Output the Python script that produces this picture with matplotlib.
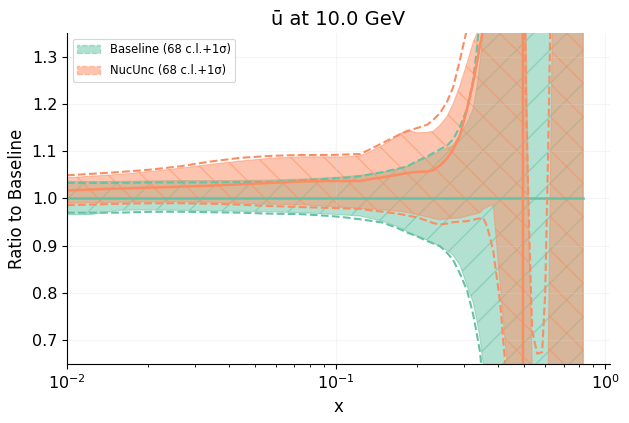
import numpy as np
import matplotlib
matplotlib.use("Agg")
import matplotlib.pyplot as plt
from matplotlib.patches import Patch

DPI = 100

green = "#66c2a5"
orange = "#fc8d62"

# x grid (log x)
x = [0.0100, 0.01218, 0.01574, 0.02035, 0.02631, 0.03401, 0.04396, 0.05683, 0.07346, 0.0950,
     0.1080, 0.1228, 0.1338, 0.1495, 0.1729, 0.1836, 0.2000, 0.2180, 0.2294, 0.2435,
     0.2586, 0.2722, 0.2891, 0.3069, 0.3231, 0.3343, 0.3430, 0.3520, 0.3642, 0.3835,
     0.4071, 0.4322, 0.4628, 0.4935, 0.4957, 0.5085, 0.5218, 0.5354, 0.5588, 0.5831,
     0.5984, 0.6139, 0.6245, 0.6353, 0.7100, 0.8284]

# baseline: ratio to itself
base_c = [1.0] * len(x)
base_hi = [1.036, 1.036, 1.036, 1.037, 1.038, 1.038, 1.038, 1.039, 1.041, 1.044,
           1.046, 1.049, 1.052, 1.056, 1.064, 1.068, 1.078, 1.087, 1.093, 1.100,
           1.106, 1.113, 1.135, 1.160, 1.190, 1.240, 1.290, 1.350, 1.6, 1.6,
           1.6, 1.6, 1.6, 1.6, 1.6, 1.6, 1.6, 1.6, 1.6, 1.6,
           1.6, 1.6, 1.6, 1.6, 1.6, 1.6]
base_lo = [0.966, 0.966, 0.975, 0.976, 0.975, 0.974, 0.973, 0.972, 0.970, 0.967,
           0.965, 0.963, 0.958, 0.952, 0.938, 0.930, 0.920, 0.912, 0.906, 0.898,
           0.890, 0.880, 0.858, 0.815, 0.780, 0.740, 0.702, 0.650, 0.4, 0.4,
           0.4, 0.4, 0.4, 0.4, 0.4, 0.4, 0.4, 0.4, 0.4, 0.4,
           0.4, 0.4, 0.4, 0.4, 0.4, 0.4]
base_hi_s = [1.033, 1.033, 1.033, 1.034, 1.034, 1.034, 1.035, 1.035, 1.038, 1.042,
             1.044, 1.047, 1.051, 1.056, 1.064, 1.068, 1.079, 1.089, 1.096, 1.104,
             1.112, 1.125, 1.153, 1.190, 1.250, 1.320, 1.400, 1.6, 1.6, 1.6,
             1.6, 1.6, 1.6, 1.6, 1.6, 1.6, 1.6, 1.6, 1.6, 1.6,
             1.6, 1.6, 1.6, 1.6, 1.6, 1.6]
base_lo_s = [0.970, 0.970, 0.970, 0.972, 0.972, 0.971, 0.970, 0.968, 0.967, 0.963,
             0.960, 0.956, 0.953, 0.949, 0.935, 0.928, 0.920, 0.910, 0.905, 0.899,
             0.885, 0.870, 0.840, 0.805, 0.755, 0.710, 0.674, 0.600, 0.4, 0.4,
             0.4, 0.4, 0.4, 0.4, 0.4, 0.4, 0.4, 0.4, 0.4, 0.4,
             0.4, 0.4, 0.4, 0.4, 0.4, 0.4]

# nuclear uncertainties fit, ratio to baseline
nuc_c = [1.017, 1.019, 1.021, 1.023, 1.025, 1.027, 1.030, 1.033, 1.036, 1.037,
         1.037, 1.037, 1.041, 1.045, 1.051, 1.054, 1.056, 1.057, 1.060, 1.070,
         1.085, 1.103, 1.135, 1.190, 1.245, 1.290, 1.325, 1.360, 1.6, 2.0,
         2.5, 3.0, 4.0, 6.0, -4.0, 0.2, 0.2, 0.2, 0.2, 0.2,
         0.2, 0.2, 0.2, 0.2, 0.2, 0.2]
nuc_hi = [1.044, 1.047, 1.051, 1.057, 1.064, 1.072, 1.079, 1.085, 1.088, 1.088,
          1.088, 1.090, 1.099, 1.113, 1.137, 1.145, 1.139, 1.140, 1.142, 1.155,
          1.174, 1.200, 1.240, 1.287, 1.330, 1.350, 1.6, 1.6, 1.6, 1.6,
          1.6, 1.6, 1.6, 1.6, 1.6, 1.35, 0.89, 0.65, 0.4, 0.4,
          0.4, 0.65, 1.0, 1.35, 1.6, 1.6]
nuc_lo = [0.990, 0.991, 0.992, 0.993, 0.993, 0.992, 0.990, 0.988, 0.987, 0.983,
          0.981, 0.979, 0.978, 0.976, 0.973, 0.970, 0.966, 0.961, 0.958, 0.955,
          0.957, 0.958, 0.959, 0.963, 0.966, 0.968, 0.970, 0.977, 0.982, 0.987,
          0.818, 0.650, 0.4, 0.4, 0.4, 0.4, 0.4, 0.4, 0.4, 0.4,
          0.4, 0.4, 0.4, 0.4, 0.4, 0.4]
nuc_hi_s = [1.049, 1.052, 1.056, 1.061, 1.068, 1.078, 1.086, 1.090, 1.092, 1.092,
            1.093, 1.094, 1.104, 1.118, 1.136, 1.142, 1.149, 1.156, 1.166, 1.181,
            1.205, 1.235, 1.295, 1.360, 1.6, 1.6, 1.6, 1.6, 1.6, 1.6,
            1.6, 1.6, 1.6, 1.6, 1.6, 1.20, 0.93, 0.72, 0.672, 0.675,
            0.80, 1.10, 1.35, 1.6, 1.6, 1.6]
nuc_lo_s = [0.986, 0.987, 0.989, 0.990, 0.990, 0.989, 0.987, 0.984, 0.982, 0.980,
            0.979, 0.978, 0.975, 0.972, 0.967, 0.964, 0.960, 0.953, 0.948, 0.945,
            0.947, 0.950, 0.951, 0.952, 0.955, 0.957, 0.958, 0.959, 0.941, 0.890,
            0.780, 0.600, 0.4, 0.4, 0.4, 0.4, 0.4, 0.4, 0.4, 0.4,
            0.4, 0.4, 0.4, 0.4, 0.4, 0.4]

labels = ["Baseline (68 c.l.+1σ)", "NucUnc (68 c.l.+1σ)"]

plt.rcParams['hatch.linewidth'] = 1.0

fig = plt.figure(figsize=(629 / DPI, 423 / DPI), dpi=DPI)
ax = fig.add_axes([0.1065, 0.1395, 0.8633, 0.7825])

ax.fill_between(x, base_lo, base_hi, facecolor=green, edgecolor=green,
                alpha=0.5, hatch='/', lw=0.8)
ax.fill_between(x, nuc_lo, nuc_hi, facecolor=orange, edgecolor=orange,
                alpha=0.5, hatch='\\', lw=0.8)

ax.plot(x, base_c, color=green, lw=1.8)
ax.plot(x, base_hi_s, color=green, lw=1.5, ls='--')
ax.plot(x, base_lo_s, color=green, lw=1.5, ls='--')
ax.plot(x, nuc_c, color=orange, lw=1.8)
ax.plot(x, nuc_hi_s, color=orange, lw=1.5, ls='--')
ax.plot(x, nuc_lo_s, color=orange, lw=1.5, ls='--')

ax.set_xscale('log')
ax.set_xlim(0.01, 1.042)
ax.set_ylim(0.65, 1.35)
ax.grid(True, which='major', color='0.85', alpha=0.25, lw=0.8)

ax.spines['top'].set_visible(False)
ax.spines['right'].set_visible(False)
ax.tick_params(which='major', labelsize=11.5)

ax.set_xlabel("x", fontsize=12)
ax.set_ylabel("Ratio to Baseline", fontsize=12)
ax.set_title("ū at 10.0 GeV", fontsize=14)

handles = [Patch(facecolor=green, edgecolor=green, alpha=0.5, ls='--', lw=1.0),
           Patch(facecolor=orange, edgecolor=orange, alpha=0.5, ls='--', lw=1.0)]
leg = ax.legend(handles, labels, loc='upper left', fontsize=8.3, labelspacing=0.7)
leg.get_frame().set_linewidth(0.8)

fig.savefig("out.png", dpi=DPI)
